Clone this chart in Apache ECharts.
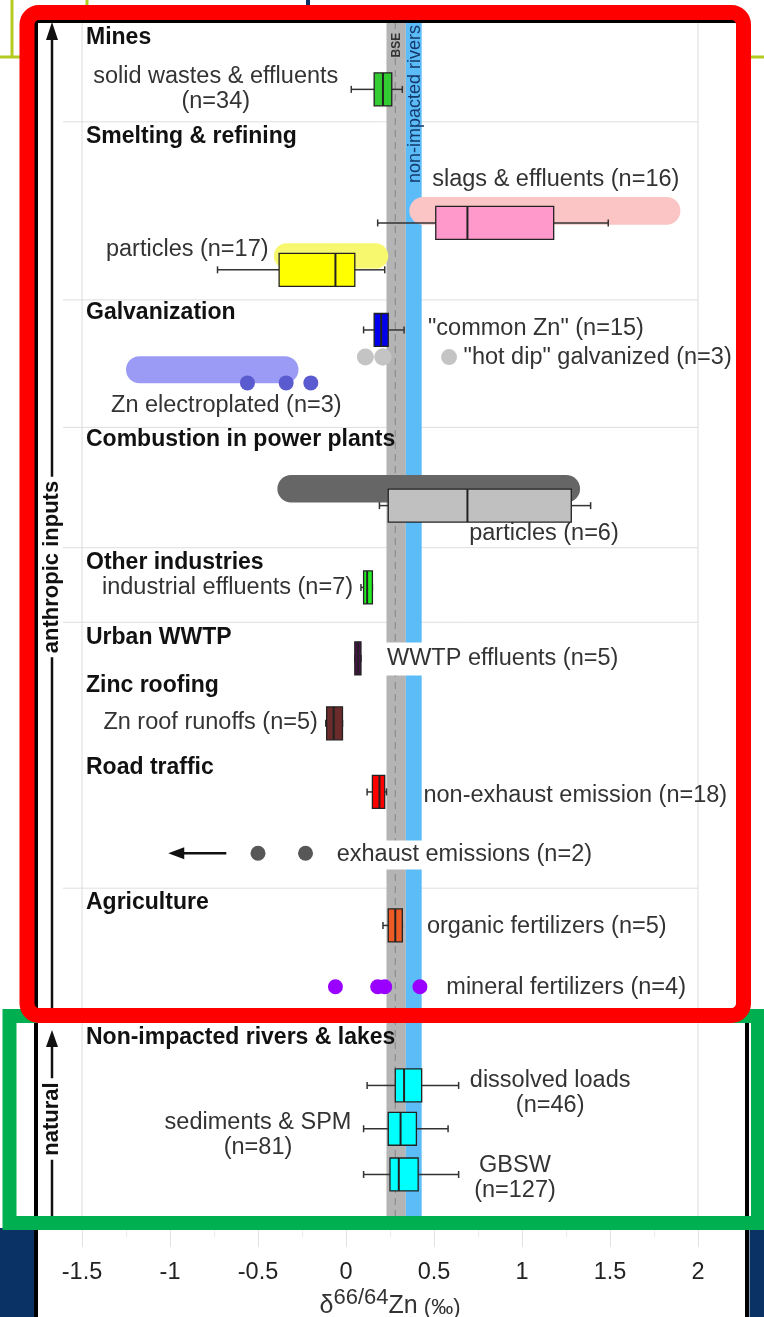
<!DOCTYPE html>
<html>
<head>
<meta charset="utf-8">
<script src="https://cdn.jsdelivr.net/npm/echarts@6/dist/echarts.min.js"></script>
<style>
  html, body { margin: 0; padding: 0; background: #fff; }
  #chart { width: 764px; height: 1317px; }
</style>
</head>
<body>
<div id="chart"></div>
<script>
// Zinc isotope composition (δ66/64Zn, ‰) of anthropogenic sources and natural river material

// ---------- content ----------
const tickLabels = ['-1.5', '-1', '-0.5', '0', '0.5', '1', '1.5', '2'];

const groupNames = [
  'Mines', 'Smelting & refining', 'Galvanization', 'Combustion in power plants',
  'Other industries', 'Urban WWTP', 'Zinc roofing', 'Road traffic', 'Agriculture',
  'Non-impacted rivers & lakes'
];

const boxNames = [
  'solid wastes & effluents', 'slags & effluents', 'particles', '"common Zn"',
  'particles', 'industrial effluents', 'WWTP effluents', 'Zn roof runoffs',
  'non-exhaust emission', 'organic fertilizers', 'dissolved loads',
  'sediments & SPM', 'GBSW'
];
const boxCounts = [34, 16, 17, 15, 6, 7, 5, 5, 18, 5, 46, 81, 127];
// [min, q1, median, q3, max] in ‰
const boxStats = [
  [0.03, 0.16, 0.21, 0.26, 0.32],
  [0.18, 0.51, 0.69, 1.18, 1.49],
  [-0.73, -0.38, -0.06, 0.05, 0.22],
  [0.10, 0.16, 0.20, 0.24, 0.33],
  [0.19, 0.24, 0.69, 1.28, 1.39],
  [0.085, 0.10, 0.12, 0.15, 0.15],
  [0.05, 0.05, 0.068, 0.085, 0.085],
  [-0.115, -0.11, -0.07, -0.02, -0.02],
  [0.12, 0.15, 0.19, 0.22, 0.23],
  [0.21, 0.24, 0.28, 0.32, 0.32],
  [0.12, 0.28, 0.33, 0.43, 0.64],
  [0.10, 0.24, 0.31, 0.40, 0.58],
  [0.10, 0.25, 0.30, 0.41, 0.64]
];

// literature ranges drawn as capsules behind the boxes
const rangeBounds = [
  [0.36, 1.90],   // slags & effluents
  [-0.41, 0.24],  // smelter particles
  [-1.25, -0.27], // Zn electroplated
  [-0.39, 1.33]   // power plant particles
];

const hotDipValues = [0.11, 0.21, 0.21];
const electroplatedValues = [-0.56, -0.34, -0.20];
const exhaustValues = [-0.50, -0.23];
const exhaustArrow = [-0.68, -1.01];
const mineralValues = [-0.06, 0.18, 0.22, 0.42];
const hotDipCount = 3, electroplatedCount = 3, exhaustCount = 2, mineralCount = 4;

const bseRange = [0.23, 0.34];
const bseMean = 0.28;
const riversRange = [0.34, 0.43];

// ---------- layout (vertical slots, 0 = top, 100 = bottom) ----------
const ROWS = 100;
const groupRows = [1.25, 9.48, 24.1, 34.66, 44.89, 51.12, 55.11, 61.93, 73.15, 84.37];
const separatorRows = [8.3, 23.1, 33.7, 43.7, 49.9, 72.0, 82.3];
const boxRows = [5.6, 16.7, 20.6, 25.6, 40.2, 47.0, 52.9, 58.3, 64.0, 75.1, 88.4, 92.0, 95.8];
const BOX_H = 2.74;
const rangeRows = [15.7, 19.45, 28.9, 38.8];
const rangeHeights = [2.3, 2.1, 2.25, 2.3];
const hotDipRow = 27.85, electroplatedRow = 30.0, exhaustRow = 69.1, mineralRow = 80.2;

// ---------- styles ----------
const FONT = '"Liberation Sans", Arial, sans-serif';
const boxColors = ['#33cc33', '#ff99cc', '#ffff00', '#0000ee', '#c0c0c0', '#22ee22',
  '#4b0f4b', '#6b2b2b', '#ff0000', '#ee5a24', '#00ffff', '#00ffff', '#00ffff'];
const rangeColors = ['#fbc5c5', '#f8f86e', '#9b9bf6', '#666666'];

const nText = i => `${boxNames[i]} (n=${boxCounts[i]})`;
const nTwoLines = i => `${boxNames[i]}\n(n=${boxCounts[i]})`;

const labels = [
  { text: nTwoLines(0), x: -0.74, row: 5.57, align: 'center' },
  { text: nText(1), x: 0.49, row: 13.13, align: 'left' },
  { text: nText(2), x: -0.44, row: 18.95, align: 'right' },
  { text: nText(3), x: 0.466, row: 25.44, align: 'left' },
  { text: `{dot|} "hot dip" galvanized (n=${hotDipCount})`, x: 0.54, row: 27.85, align: 'left' },
  { text: `Zn electroplated (n=${electroplatedCount})`, x: -0.68, row: 31.92, align: 'center' },
  { text: nText(4), x: 0.70, row: 42.48, align: 'left' },
  { text: nText(5), x: 0.04, row: 47.05, align: 'right' },
  { text: nText(6), x: 0.21, row: 52.95, align: 'left', bg: [4, 4] },
  { text: nText(7), x: -0.16, row: 58.19, align: 'right' },
  { text: nText(8), x: 0.44, row: 64.26, align: 'left' },
  { text: `exhaust emissions (n=${exhaustCount})`, x: -0.07, row: 69.24, align: 'left', bg: [2, 3] },
  { text: nText(9), x: 0.46, row: 75.15, align: 'left' },
  { text: `mineral fertilizers (n=${mineralCount})`, x: 0.57, row: 80.22, align: 'left' },
  { text: nTwoLines(10), x: 1.16, row: 89.03, align: 'center' },
  { text: nTwoLines(11), x: -0.5, row: 92.52, align: 'center' },
  { text: nTwoLines(12), x: 0.96, row: 96.13, align: 'center' }
];

const chart = echarts.init(document.getElementById('chart'), null, { renderer: 'canvas' });

function boxItem(params, api) {
  const lo = api.value(0), q1 = api.value(1), med = api.value(2), q3 = api.value(3), hi = api.value(4);
  const row = api.value(5);
  const h = Math.abs(api.size([0, BOX_H])[1]);
  const pLo = api.coord([lo, row]), pQ1 = api.coord([q1, row]), pMed = api.coord([med, row]);
  const pQ3 = api.coord([q3, row]), pHi = api.coord([hi, row]);
  const y = pMed[1];
  const cap = 3.5;
  const wl = { stroke: '#333', lineWidth: 1.5 };
  return {
    type: 'group',
    children: [
      { type: 'line', shape: { x1: pLo[0], y1: y, x2: pQ1[0], y2: y }, style: wl },
      { type: 'line', shape: { x1: pQ3[0], y1: y, x2: pHi[0], y2: y }, style: wl },
      { type: 'line', shape: { x1: pLo[0], y1: y - cap, x2: pLo[0], y2: y + cap }, style: wl },
      { type: 'line', shape: { x1: pHi[0], y1: y - cap, x2: pHi[0], y2: y + cap }, style: wl },
      { type: 'rect', shape: { x: pQ1[0], y: y - h / 2, width: Math.max(pQ3[0] - pQ1[0], 3), height: h },
        style: { fill: boxColors[params.dataIndex], stroke: '#222', lineWidth: 1.3 } },
      { type: 'line', shape: { x1: pMed[0], y1: y - h / 2, x2: pMed[0], y2: y + h / 2 },
        style: { stroke: '#222', lineWidth: 2 } }
    ]
  };
}

function rangeItem(params, api) {
  const p1 = api.coord([api.value(0), api.value(2)]);
  const p2 = api.coord([api.value(1), api.value(2)]);
  const h = Math.abs(api.size([0, rangeHeights[params.dataIndex]])[1]);
  return {
    type: 'rect',
    shape: { x: p1[0], y: p1[1] - h / 2, width: p2[0] - p1[0], height: h, r: h / 2 },
    style: { fill: rangeColors[params.dataIndex] }
  };
}

function bandItem(params, api) {
  const a = api.coord([api.value(0), 0]);
  const b = api.coord([api.value(1), ROWS]);
  const fill = params.dataIndex === 0 ? '#b4b4b4' : '#5bbcf7';
  const children = [{ type: 'rect', shape: { x: a[0], y: a[1], width: b[0] - a[0], height: b[1] - a[1] }, style: { fill } }];
  if (params.dataIndex === 0) {
    const m1 = api.coord([bseMean, 0]), m2 = api.coord([bseMean, ROWS]);
    children.push({ type: 'line', shape: { x1: m1[0], y1: m1[1], x2: m2[0], y2: m2[1] },
      style: { stroke: '#8d8d8d', lineWidth: 1.2, lineDash: [7, 5] } });
  }
  return { type: 'group', children };
}

function separatorItem(params, api) {
  const a = api.coord([-1.5, api.value(0)]);
  const b = api.coord([2, api.value(0)]);
  return { type: 'line', shape: { x1: a[0] - 19, y1: a[1], x2: b[0], y2: b[1] },
    style: { stroke: '#dedede', lineWidth: 1 } };
}

function labelItem(params, api) {
  const l = labels[params.dataIndex];
  const p = api.coord([api.value(0), api.value(1)]);
  const style = {
    text: l.text, x: p[0], y: p[1], align: l.align, verticalAlign: 'middle',
    font: `23.5px ${FONT}`, fill: '#333', lineHeight: 25,
    rich: { dot: { width: 16, height: 16, borderRadius: 8, backgroundColor: '#c4c4c4' } }
  };
  if (l.bg) { style.backgroundColor = '#fff'; style.padding = l.bg; }
  return { type: 'text', style };
}

function groupItem(params, api) {
  const p = api.coord([api.value(0), api.value(1)]);
  return { type: 'text', style: { text: groupNames[params.dataIndex], x: p[0] + 4, y: p[1] + 1,
    align: 'left', verticalAlign: 'middle', font: `bold 23px ${FONT}`, fill: '#111' } };
}

function bandTitleItem(params, api) {
  const p = api.coord([api.value(0), api.value(1)]);
  const isBse = params.dataIndex === 0;
  return { type: 'text', x: p[0], y: p[1], rotation: Math.PI / 2,
    style: { text: isBse ? 'BSE' : 'non-impacted rivers', x: 0, y: 0, align: 'right', verticalAlign: 'middle',
      font: isBse ? `bold 12px ${FONT}` : `18px ${FONT}`, fill: isBse ? '#333' : '#15396c' } };
}

function arrowItem(params, api) {
  const a = api.coord([api.value(0), api.value(2)]);
  const b = api.coord([api.value(1), api.value(2)]);
  return { type: 'group', children: [
    { type: 'line', shape: { x1: a[0], y1: a[1], x2: b[0] + 12, y2: b[1] }, style: { stroke: '#111', lineWidth: 2.5 } },
    { type: 'polygon', shape: { points: [[b[0], b[1]], [b[0] + 16, b[1] - 6], [b[0] + 16, b[1] + 6]] }, style: { fill: '#111' } }
  ] };
}

const dot = (name, values, row, color, size) => ({
  type: 'scatter', name, z: 6, symbolSize: size, itemStyle: { color, opacity: 1 },
  data: values.map(v => [v, row]), silent: true
});

const option = {
  backgroundColor: '#fff',
  animation: false,
  textStyle: { fontFamily: FONT },
  grid: { left: 82, right: 66, top: 22, bottom: 92, show: true, borderColor: '#dcdcdc', borderWidth: 1,
    containLabel: false, outerBoundsMode: 'none' },
  xAxis: {
    type: 'value', position: 'bottom', min: -1.5, max: 2, interval: 0.5,
    splitLine: { show: false },
    axisLine: { show: false, onZero: false },
    axisTick: { show: true, length: 22, lineStyle: { color: '#e2e2e2' } },
    minorTick: { show: true, splitNumber: 2, length: 12, lineStyle: { color: '#ececec' } },
    axisLabel: { margin: 36, fontSize: 23.5, color: '#222', fontFamily: FONT,
      formatter: v => tickLabels[Math.round((v + 1.5) / 0.5)] },
    name: '{d|δ}{s|66/64}{z|Zn}{unit| (‰)}',
    nameLocation: 'middle', nameGap: 62, nameMoveOverlap: false,
    nameTextStyle: {
      color: '#333', fontFamily: FONT, fontSize: 22, verticalAlign: 'top',
      rich: {
        d: { fontSize: 25, lineHeight: 32, verticalAlign: 'bottom', color: '#333', fontFamily: FONT },
        s: { fontSize: 22, lineHeight: 22, verticalAlign: 'top', color: '#333', fontFamily: FONT },
        z: { fontSize: 25, lineHeight: 30, verticalAlign: 'bottom', color: '#333', fontFamily: FONT },
        unit: { fontSize: 22, lineHeight: 30, verticalAlign: 'bottom', color: '#333', fontFamily: FONT }
      }
    }
  },
  yAxis: { type: 'value', min: 0, max: ROWS, inverse: true, show: false },
  series: [
    { type: 'custom', name: 'separators', z: 1, clip: false, silent: true,
      renderItem: separatorItem, encode: { y: 0 }, data: separatorRows.map(r => [r]) },
    { type: 'custom', name: 'reference bands', z: 2, silent: true,
      renderItem: bandItem, encode: { x: [0, 1] },
      data: [bseRange, riversRange] },
    { type: 'custom', name: 'band titles', z: 3, silent: true, clip: false,
      renderItem: bandTitleItem, encode: { x: 0, y: 1 },
      data: [[0.29, 0.9], [0.39, 0.25]] },
    { type: 'custom', name: 'ranges', z: 4, silent: true,
      renderItem: rangeItem, encode: { x: [0, 1], y: 2 },
      data: rangeBounds.map((b, i) => [b[0], b[1], rangeRows[i]]) },
    { type: 'custom', name: 'boxes', z: 5, silent: true,
      renderItem: boxItem, encode: { x: [0, 1, 2, 3, 4], y: 5 },
      data: boxStats.map((s, i) => [...s, boxRows[i]]) },
    dot('hot dip galvanized', hotDipValues, hotDipRow, '#c4c4c4', 17),
    dot('Zn electroplated', electroplatedValues, electroplatedRow, '#5b5bd0', 15),
    dot('exhaust emissions', exhaustValues, exhaustRow, '#575757', 15),
    dot('mineral fertilizers', mineralValues, mineralRow, '#9900ff', 15),
    { type: 'custom', name: 'exhaust arrow', z: 6, silent: true,
      renderItem: arrowItem, encode: { x: [0, 1], y: 2 },
      data: [[exhaustArrow[0], exhaustArrow[1], exhaustRow]] },
    { type: 'custom', name: 'labels', z: 7, silent: true, clip: false,
      renderItem: labelItem, encode: { x: 0, y: 1 },
      data: labels.map(l => [l.x, l.row]) },
    { type: 'custom', name: 'groups', z: 7, silent: true, clip: false,
      renderItem: groupItem, encode: { x: 0, y: 1 },
      data: groupRows.map(r => [-1.5, r]) }
  ],
  graphic: [
    // figure frame
    { type: 'rect', z: 90, silent: true, shape: { x: 36, y: 21, width: 711, height: 1330 },
      style: { fill: null, stroke: '#000', lineWidth: 4 } },
    { type: 'rect', z: 89, silent: true, shape: { x: 0, y: 1228, width: 34, height: 89 }, style: { fill: '#0a3264' } },
    { type: 'rect', z: 89, silent: true, shape: { x: 749.5, y: 1228, width: 15, height: 89 }, style: { fill: '#0a3264' } },
    { type: 'rect', z: 89, silent: true, shape: { x: 306, y: 0, width: 4, height: 15 }, style: { fill: '#0a3264' } },
    { type: 'line', z: 89, silent: true, shape: { x1: 12, y1: 0, x2: 12, y2: 57 }, style: { stroke: '#b3cc1f', lineWidth: 3 } },
    { type: 'line', z: 89, silent: true, shape: { x1: 0, y1: 57, x2: 24, y2: 57 }, style: { stroke: '#b3cc1f', lineWidth: 3 } },
    { type: 'line', z: 89, silent: true, shape: { x1: 87, y1: 0, x2: 87, y2: 10 }, style: { stroke: '#b3cc1f', lineWidth: 3 } },
    { type: 'line', z: 89, silent: true, shape: { x1: 745, y1: 57, x2: 764, y2: 57 }, style: { stroke: '#b3cc1f', lineWidth: 3 } },
    // anthropic inputs arrow
    { type: 'line', z: 60, silent: true, shape: { x1: 52, y1: 36, x2: 52, y2: 1012 }, style: { stroke: '#111', lineWidth: 2.5 } },
    { type: 'polygon', z: 60, silent: true, shape: { points: [[52, 22], [46, 40], [58, 40]] }, style: { fill: '#111' } },
    { type: 'text', z: 61, silent: true, x: 52, y: 567, rotation: Math.PI / 2,
      style: { text: 'anthropic inputs', x: 0, y: 0, font: `bold 22px ${FONT}`, fill: '#111',
        align: 'center', verticalAlign: 'middle', textAlign: 'center', textVerticalAlign: 'middle',
        backgroundColor: '#fff', padding: [0, 4] } },
    // natural arrow
    { type: 'line', z: 60, silent: true, shape: { x1: 52, y1: 1044, x2: 52, y2: 1216 }, style: { stroke: '#111', lineWidth: 2.5 } },
    { type: 'polygon', z: 60, silent: true, shape: { points: [[52, 1030], [46, 1047], [58, 1047]] }, style: { fill: '#111' } },
    { type: 'text', z: 61, silent: true, x: 52, y: 1119, rotation: Math.PI / 2,
      style: { text: 'natural', x: 0, y: 0, font: `bold 22px ${FONT}`, fill: '#111',
        align: 'center', verticalAlign: 'middle', textAlign: 'center', textVerticalAlign: 'middle',
        backgroundColor: '#fff', padding: [0, 4] } },
    // highlight boxes
    { type: 'rect', z: 99, silent: true, shape: { x: 9.5, y: 1016, width: 748.5, height: 207 },
      style: { fill: null, stroke: '#00b050', lineWidth: 14 } },
    { type: 'rect', z: 100, silent: true, shape: { x: 27, y: 12.5, width: 716.5, height: 1003, r: 12 },
      style: { fill: null, stroke: '#ff0000', lineWidth: 15 } }
  ]
};

chart.setOption(option);
</script>
</body>
</html>
